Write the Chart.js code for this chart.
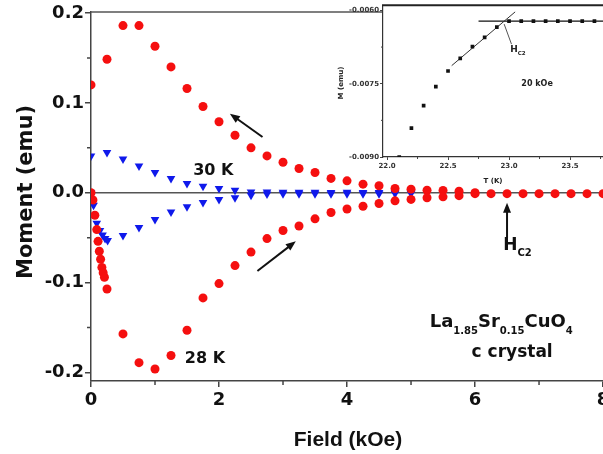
<!DOCTYPE html>
<html>
<head>
<meta charset="utf-8">
<script src="https://cdn.jsdelivr.net/npm/chart.js@4.4.0/dist/chart.umd.min.js"></script>
<style>
  html, body { margin: 0; padding: 0; background: #fff; overflow: hidden; }
  #wrap { position: relative; width: 625px; height: 454px; }
  #mainChart { position: absolute; left: 0; top: 0; }
  #insetChart { position: absolute; left: 330px; top: 0; }
</style>
</head>
<body>
<div id="wrap">
  <canvas id="mainChart" width="625" height="454"></canvas>
  <canvas id="insetChart" width="295" height="190"></canvas>
</div>
<script>
// 28 K: virgin curve, then field increasing up to 8 kOe
const field28Rise = [0, 0.03, 0.06, 0.09, 0.11, 0.13, 0.15, 0.17, 0.19, 0.21,
  0.25, 0.5, 0.75, 1.0, 1.25, 1.5, 1.75, 2.0, 2.25, 2.5, 2.75, 3.0, 3.25, 3.5, 3.75,
  4.0, 4.25, 4.5, 4.75, 5.0, 5.25, 5.5, 5.75, 6.0, 6.25, 6.5, 6.75, 7.0, 7.25, 7.5, 7.75, 8.0];
const moment28Rise = [0, -0.008, -0.025, -0.041, -0.054, -0.065, -0.074, -0.083, -0.089, -0.094,
  -0.107, -0.157, -0.189, -0.196, -0.181, -0.153, -0.117, -0.101, -0.081, -0.066, -0.051, -0.042, -0.037, -0.029, -0.022,
  -0.018, -0.015, -0.012, -0.009, -0.0074, -0.0055, -0.0045, -0.0032, -0.001, -0.001, -0.001, -0.001, -0.001, -0.001, -0.001, -0.001, -0.001];

// 28 K: field decreasing back to zero
const field28Fall = [6.0, 5.75, 5.5, 5.25, 5.0, 4.75, 4.5, 4.25, 4.0, 3.75, 3.5, 3.25, 3.0,
  2.75, 2.5, 2.25, 2.0, 1.75, 1.5, 1.25, 1.0, 0.75, 0.5, 0.25, 0];
const moment28Fall = [0.0, 0.0018, 0.0026, 0.0028, 0.004, 0.0048, 0.0078, 0.0096, 0.0133, 0.016, 0.0226, 0.027, 0.034,
  0.041, 0.050, 0.064, 0.079, 0.096, 0.116, 0.140, 0.163, 0.186, 0.186, 0.1485, 0.120];

// 30 K
const field30Rise = [0, 0.04, 0.09, 0.14, 0.18, 0.22, 0.26, 0.5, 0.75, 1.0, 1.25, 1.5, 1.75, 2.0,
  2.25, 2.5, 2.75, 3.0, 3.25, 3.5, 3.75, 4.0, 4.25, 4.5, 4.75, 5.0];
const moment30Rise = [0, -0.014, -0.034, -0.042, -0.047, -0.051, -0.053, -0.0475, -0.0385, -0.0297, -0.0215, -0.0155, -0.0107, -0.0074,
  -0.0056, -0.0027, -0.0015, -0.001, -0.001, -0.001, -0.001, -0.001, -0.001, -0.001, -0.0008, -0.0008];
const field30Fall = [5.0, 4.75, 4.5, 4.25, 4.0, 3.75, 3.5, 3.25, 3.0, 2.75, 2.5, 2.25, 2.0,
  1.75, 1.5, 1.25, 1.0, 0.75, 0.5, 0.25, 0];
const moment30Fall = [0.0003, 0.0003, 0.0004, 0.0003, 0.0005, 0.0004, 0.0006, 0.0005, 0.0007, 0.0008, 0.0009, 0.0028, 0.0047,
  0.0072, 0.0102, 0.016, 0.0226, 0.0297, 0.0375, 0.0447, 0.041];

const xTicks = [0, 2, 4, 6, 8];
const xMinorTicks = [1, 3, 5, 7];
const yTicks = [-0.2, -0.1, 0, 0.1, 0.2];
const yMinorTicks = [-0.15, -0.05, 0.05, 0.15];

// inset: M(T) at 20 kOe
const insetTemp = [22.1, 22.2, 22.3, 22.4, 22.5, 22.6, 22.7, 22.8, 22.9, 23.0, 23.1, 23.2, 23.3, 23.4, 23.5, 23.6, 23.7];
const insetMoment = [-0.0090, -0.00841, -0.00795, -0.00756, -0.00724, -0.00698, -0.00674, -0.00655, -0.00634,
  -0.00622, -0.00622, -0.00622, -0.00622, -0.00622, -0.00622, -0.00622, -0.00622];
const fitTemp = [22.53, 23.05];
const fitMoment = [-0.00713, -0.00603];
const baseTemp = [22.75, 23.85];
const baseMoment = [-0.00622, -0.00622];
const pointerTemp = [23.02, 22.96];
const pointerMoment = [-0.00669, -0.00628];
const insetXTicks = [22.0, 22.5, 23.0, 23.5];
const insetXMinor = [22.25, 22.75, 23.25, 23.75];
const insetYTicks = [-0.009, -0.0075, -0.006];
const insetYMinor = [-0.00825, -0.00675];

const family = "'DejaVu Sans', sans-serif";
const axisColor = '#444';
const red = 'rgb(245, 15, 15)';
const blue = 'rgb(15, 25, 235)';

function pts(xs, ys) { return xs.map((v, i) => ({ x: v, y: ys[i] })); }

function arrow(ctx, x1, y1, x2, y2) {
  const a = Math.atan2(y2 - y1, x2 - x1);
  const head = 10, half = 4;
  ctx.beginPath();
  ctx.moveTo(x1, y1);
  ctx.lineTo(x2 - head * 0.7 * Math.cos(a), y2 - head * 0.7 * Math.sin(a));
  ctx.stroke();
  ctx.beginPath();
  ctx.moveTo(x2, y2);
  ctx.lineTo(x2 - head * Math.cos(a) + half * Math.sin(a), y2 - head * Math.sin(a) - half * Math.cos(a));
  ctx.lineTo(x2 - head * Math.cos(a) - half * Math.sin(a), y2 - head * Math.sin(a) + half * Math.cos(a));
  ctx.closePath();
  ctx.fill();
}

// parts: [text, isSubscript]
function richText(ctx, parts, x, y, align, size, subSize, drop) {
  const widths = parts.map(p => {
    ctx.font = 'bold ' + (p[1] ? subSize : size) + 'px ' + family;
    return ctx.measureText(p[0]).width;
  });
  const total = widths.reduce((s, w) => s + w, 0);
  let cx = align === 'center' ? x - total / 2 : x;
  ctx.textAlign = 'left';
  parts.forEach((p, i) => {
    ctx.font = 'bold ' + (p[1] ? subSize : size) + 'px ' + family;
    ctx.fillText(p[0], cx, p[1] ? y + drop : y);
    cx += widths[i];
  });
}

const mainDecor = {
  id: 'mainDecor',
  beforeDatasetsDraw(chart) {
    const { ctx, chartArea: a, scales: { x, y } } = chart;
    ctx.save();
    ctx.strokeStyle = '#555';
    ctx.lineWidth = 1.5;
    const y0 = y.getPixelForValue(0);
    ctx.beginPath();
    ctx.moveTo(a.left, y0); ctx.lineTo(a.right, y0);
    ctx.moveTo(a.left, a.top); ctx.lineTo(a.right, a.top);
    ctx.stroke();
    ctx.strokeStyle = axisColor;
    ctx.beginPath();
    xMinorTicks.forEach(v => {
      const px = x.getPixelForValue(v);
      ctx.moveTo(px, a.bottom); ctx.lineTo(px, a.bottom + 4);
    });
    yMinorTicks.forEach(v => {
      const py = y.getPixelForValue(v);
      ctx.moveTo(a.left, py); ctx.lineTo(a.left - 4, py);
    });
    ctx.stroke();
    ctx.restore();
  },
  afterDatasetsDraw(chart) {
    const { ctx, scales: { x, y } } = chart;
    const X = v => x.getPixelForValue(v);
    const Y = v => y.getPixelForValue(v);
    ctx.save();
    ctx.fillStyle = '#111';
    ctx.strokeStyle = '#111';
    ctx.lineWidth = 2;
    arrow(ctx, X(2.68), Y(0.062), X(2.17), Y(0.088));
    arrow(ctx, X(2.60), Y(-0.087), X(3.20), Y(-0.054));
    arrow(ctx, X(6.5), Y(-0.051), X(6.5), Y(-0.011));

    ctx.textBaseline = 'alphabetic';
    ctx.textAlign = 'center';
    ctx.font = 'bold 16px ' + family;
    ctx.fillText('30 K', X(1.91), Y(0.0194));
    ctx.fillText('28 K', X(1.78), Y(-0.189));
    richText(ctx, [['La', 0], ['1.85', 1], ['Sr', 0], ['0.15', 1], ['CuO', 0], ['4', 1]],
      X(6.41), Y(-0.1494), 'center', 18, 10, 7);
    ctx.textAlign = 'center';
    ctx.font = 'bold 17px ' + family;
    ctx.fillText('c crystal', X(6.58), Y(-0.1828));
    richText(ctx, [['H', 0], ['C2', 1]], X(6.44), Y(-0.0639), 'left', 17, 10, 6);

    // axis titles
    ctx.textAlign = 'center';
    ctx.font = "bold 21px 'Liberation Sans', Arial, sans-serif";
    ctx.fillText('Field (kOe)', 348, 446);
    ctx.font = 'bold 21px ' + family;
    ctx.translate(32, 192);
    ctx.rotate(-Math.PI / 2);
    ctx.fillText('Moment (emu)', 0, 0);
    ctx.restore();
  }
};

new Chart(document.getElementById('mainChart'), {
  type: 'scatter',
  data: {
    datasets: [
      { data: pts(field28Rise, moment28Rise), pointStyle: 'circle', pointRadius: 4.5, backgroundColor: red, borderWidth: 0 },
      { data: pts(field28Fall, moment28Fall), pointStyle: 'circle', pointRadius: 4.5, backgroundColor: red, borderWidth: 0 },
      { data: pts(field30Rise, moment30Rise), pointStyle: 'triangle', rotation: 180, pointRadius: 5, backgroundColor: blue, borderWidth: 0 },
      { data: pts(field30Fall, moment30Fall), pointStyle: 'triangle', rotation: 180, pointRadius: 5, backgroundColor: blue, borderWidth: 0 }
    ]
  },
  options: {
    responsive: false,
    animation: false,
    layout: { padding: { top: 12, right: 13, left: 0, bottom: 0 } },
    plugins: { legend: { display: false }, tooltip: { enabled: false } },
    scales: {
      x: {
        type: 'linear', min: 0, max: 8.14,
        afterFit(s) { s.height = 73; },
        afterBuildTicks(s) { s.ticks = xTicks.map(v => ({ value: v })); },
        ticks: { autoSkip: false, maxRotation: 0, padding: 3, color: '#111',
          font: { family: family, size: 18, weight: 'bold' }, callback: v => String(v) },
        grid: { drawOnChartArea: false, tickLength: 6, color: axisColor, lineWidth: 1.5 },
        border: { color: axisColor, width: 1.5 }
      },
      y: {
        type: 'linear', min: -0.2094, max: 0.2011,
        afterFit(s) { s.width = 91; },
        afterBuildTicks(s) { s.ticks = yTicks.map(v => ({ value: v })); },
        ticks: { autoSkip: false, padding: 1, color: '#111',
          font: { family: family, size: 18, weight: 'bold' }, callback: v => v.toFixed(1) },
        grid: { drawOnChartArea: false, tickLength: 6, color: axisColor, lineWidth: 1.5 },
        border: { color: axisColor, width: 1.5 }
      }
    }
  },
  plugins: [mainDecor]
});

const insetDecor = {
  id: 'insetDecor',
  beforeDraw(chart) {
    const { ctx, chartArea: a } = chart;
    ctx.save();
    ctx.fillStyle = '#fff';
    ctx.fillRect(a.left, 0, chart.width - a.left, 170);
    ctx.restore();
  },
  afterDraw(chart) {
    const { ctx, chartArea: a, scales: { x, y } } = chart;
    const X = v => x.getPixelForValue(v);
    const Y = v => y.getPixelForValue(v);
    ctx.save();
    ctx.strokeStyle = '#222';
    ctx.lineWidth = 2;
    ctx.beginPath();
    ctx.moveTo(a.left - 1, a.top); ctx.lineTo(a.right, a.top);
    ctx.stroke();
    ctx.lineWidth = 1;
    ctx.strokeStyle = '#444';
    ctx.beginPath();
    insetXMinor.forEach(v => { ctx.moveTo(X(v), a.bottom); ctx.lineTo(X(v), a.bottom + 2); });
    insetYMinor.forEach(v => { ctx.moveTo(a.left, Y(v)); ctx.lineTo(a.left - 2, Y(v)); });
    ctx.stroke();

    ctx.fillStyle = '#222';
    ctx.textBaseline = 'middle';
    ctx.textAlign = 'center';
    ctx.font = 'bold 8px ' + family;
    ctx.fillText('20 kOe', X(23.23), Y(-0.00751));
    ctx.textBaseline = 'alphabetic';
    richText(ctx, [['H', 0], ['C2', 1]], X(23.01), Y(-0.00685), 'left', 9, 5.5, 3);
    ctx.textAlign = 'center';
    ctx.textBaseline = 'middle';
    ctx.font = 'bold 7px ' + family;
    ctx.fillText('T (K)', 163, 181);
    ctx.translate(11, 83);
    ctx.rotate(-Math.PI / 2);
    ctx.fillText('M (emu)', 0, 0);
    ctx.restore();
  }
};

new Chart(document.getElementById('insetChart'), {
  type: 'scatter',
  data: {
    datasets: [
      { data: pts(insetTemp, insetMoment), pointStyle: 'rect', pointRadius: 2.6, backgroundColor: '#111', borderWidth: 0 },
      { data: pts(fitTemp, fitMoment), showLine: true, pointRadius: 0, borderColor: '#333', borderWidth: 1 },
      { data: pts(baseTemp, baseMoment), showLine: true, pointRadius: 0, borderColor: '#111', borderWidth: 1.2 },
      { data: pts(pointerTemp, pointerMoment), showLine: true, pointRadius: 0, borderColor: '#555', borderWidth: 1 }
    ]
  },
  options: {
    responsive: false,
    animation: false,
    layout: { padding: { top: 4, right: 13, left: 0, bottom: 0 } },
    plugins: { legend: { display: false }, tooltip: { enabled: false } },
    scales: {
      x: {
        type: 'linear', min: 21.967, max: 23.844,
        afterFit(s) { s.height = 33; },
        afterBuildTicks(s) { s.ticks = insetXTicks.map(v => ({ value: v })); },
        ticks: { autoSkip: false, maxRotation: 0, padding: 2, color: '#333',
          font: { family: family, size: 7, weight: 'bold' }, callback: v => v.toFixed(1) },
        grid: { drawOnChartArea: false, tickLength: 3, color: '#444', lineWidth: 1 },
        border: { color: '#333', width: 1.2 }
      },
      y: {
        type: 'linear', min: -0.009, max: -0.005893,
        afterFit(s) { s.width = 53; },
        afterBuildTicks(s) { s.ticks = insetYTicks.map(v => ({ value: v })); },
        ticks: { autoSkip: false, padding: 1, color: '#333',
          font: { family: family, size: 7, weight: 'bold' }, callback: v => v.toFixed(4) },
        grid: { drawOnChartArea: false, tickLength: 3, color: '#444', lineWidth: 1 },
        border: { color: '#333', width: 1.2 }
      }
    }
  },
  plugins: [insetDecor]
});
</script>
</body>
</html>
